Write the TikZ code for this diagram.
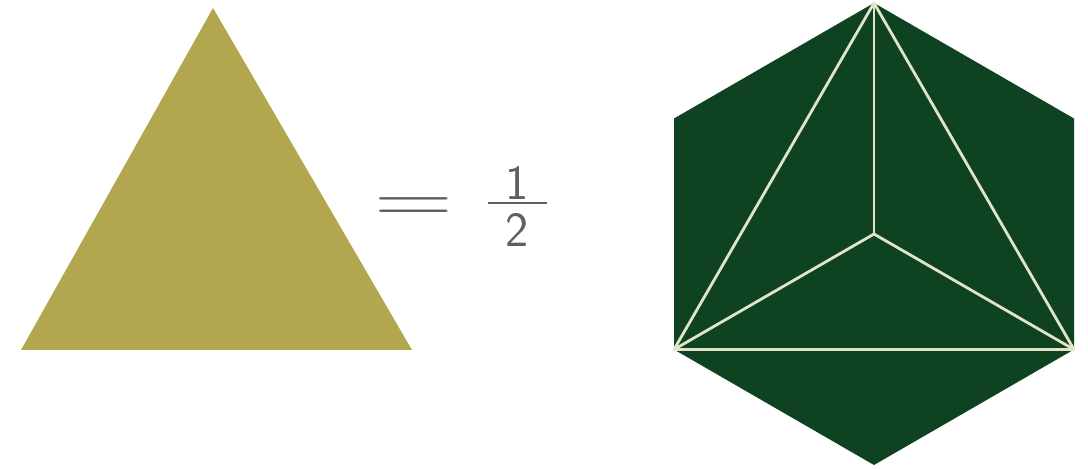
\documentclass[tikz,border=0pt]{standalone}
\usepackage{graphicx}
\definecolor{trigold}{RGB}{178,167,78}
\definecolor{hexgreen}{RGB}{14,66,32}
\definecolor{seamcol}{RGB}{226,228,200}
\definecolor{inkgray}{RGB}{95,95,95}
\tikzset{seam/.style={draw=seamcol, line width=1.6pt, line cap=round, line join=round}}
\begin{document}
\begin{tikzpicture}[x=0.02cm, y=-0.02cm]
            \useasboundingbox (0,0) rectangle (1088,469);

            % triangle on the left
            \coordinate (tritop) at (213,8);
            \coordinate (trileft) at (21,350);
            \coordinate (triright) at (412,350);
            \fill[trigold] (tritop) -- (trileft) -- (triright) -- cycle;

            % equals one half
            \node[text=inkgray] (eq) at (414,210) {\fontsize{24}{24}\selectfont\scalebox{2.5}[1.6]{$=$}};
            \node[text=inkgray] (one) at (517,183) {\fontsize{28}{28}\selectfont\sffamily 1};
            \node[text=inkgray] (two) at (517,230) {\fontsize{28}{28}\selectfont\sffamily 2};
            \coordinate (barl) at (488,203);
            \coordinate (barr) at (547,203);
            \draw[line width=1.1pt, inkgray] (barl) -- (barr);

            % hexagon on the right
            \coordinate (hc) at (874,234);
            \coordinate (htop) at (874,3);
            \coordinate (hul) at (674,118.5);
            \coordinate (hll) at (674,349.5);
            \coordinate (hbot) at (874,465);
            \coordinate (hlr) at (1074,349.5);
            \coordinate (hur) at (1074,118.5);
            \fill[hexgreen] (htop) -- (hul) -- (hll) -- (hbot) -- (hlr) -- (hur) -- cycle;

            \draw[seam] (htop) -- (hll) -- (hlr) -- cycle;
            \draw[seam] (hc) -- (htop);
            \draw[seam] (hc) -- (hll);
            \draw[seam] (hc) -- (hlr);
        \end{tikzpicture}
\end{document}
